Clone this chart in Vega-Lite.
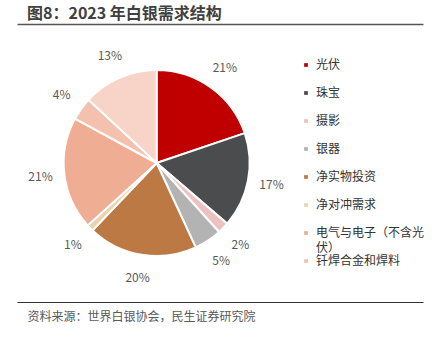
{
  "$schema": "https://vega.github.io/schema/vega-lite/v6.json",
  "width": 406,
  "height": 278,
  "autosize": {"type": "none"},
  "padding": {"left": 17, "top": 24, "right": 15, "bottom": 37},
  "background": "white",
  "config": {
    "font": "Noto Sans CJK SC",
    "view": {"stroke": null},
    "style": {"guide-label": {"lineHeight": 15.3}}
  },
  "title": {
    "text": "图8：2023 年白银需求结构",
    "anchor": "start",
    "frame": "group",
    "dx": 10,
    "offset": 2,
    "fontSize": 16,
    "fontWeight": "bold",
    "color": "#404040",
    "font": "Noto Sans CJK SC"
  },
  "data": {
    "values": [
      {"category": "光伏", "value": 19.8, "label": "21%", "order": 1},
      {"category": "珠宝", "value": 16.5, "label": "17%", "order": 2},
      {"category": "摄影", "value": 2.0, "label": "2%", "order": 3},
      {"category": "银器", "value": 4.8, "label": "5%", "order": 4},
      {"category": "净实物投资", "value": 19.0, "label": "20%", "order": 5},
      {"category": "净对冲需求", "value": 1.2, "label": "1%", "order": 6},
      {"category": "电气与电子（不含光伏）", "value": 19.6, "label": "21%", "order": 7},
      {"category": "钎焊合金和焊料", "value": 4.0, "label": "4%", "order": 8},
      {"category": "其他", "value": 13.1, "label": "13%", "order": 9}
    ]
  },
  "encoding": {
    "theta": {"field": "value", "type": "quantitative", "stack": true},
    "order": {"field": "order", "type": "quantitative"},
    "x": {
      "datum": 0.344,
      "type": "quantitative",
      "scale": {"domain": [0, 1], "nice": false, "zero": false}
    }
  },
  "layer": [
    {
      "mark": {"type": "arc", "outerRadius": 93, "stroke": "white", "strokeWidth": 2},
      "encoding": {
        "x": {
          "datum": 0.344,
          "type": "quantitative",
          "scale": {"domain": [0, 1], "nice": false, "zero": false},
          "axis": {"orient": "top", "title": null, "labels": false, "ticks": false, "grid": false, "domainColor": "#555555", "domainWidth": 1.6}
        },
        "color": {
          "field": "category",
          "type": "nominal",
          "sort": null,
          "scale": {
            "domain": ["光伏", "珠宝", "摄影", "银器", "净实物投资", "净对冲需求", "电气与电子（不含光伏）", "钎焊合金和焊料", "其他"],
            "range": ["#C00000", "#4B4C4E", "#EEC1C1", "#B3B3B3", "#BD7944", "#E8D3AE", "#EFAE94", "#F4C1AF", "#F7D3C8"]
          },
          "legend": {
            "values": ["光伏", "珠宝", "摄影", "银器", "净实物投资", "净对冲需求", "电气与电子（不含光伏）", "钎焊合金和焊料"],
            "title": null,
            "orient": "none",
            "legendX": 283,
            "legendY": 35,
            "padding": 0,
            "symbolType": "square",
            "symbolSize": 14,
            "symbolStrokeWidth": 0,
            "labelFontSize": 12,
            "labelColor": "#333333",
            "labelFont": "Noto Sans CJK SC",
            "labelOffset": 4,
            "labelLimit": 200,
            "gridAlign": "all",
            "rowPadding": 0,
            "labelExpr": "datum.label == '电气与电子（不含光伏）' ? ['电气与电子（不含光', '伏）'] : datum.label"
          }
        }
      }
    },
    {
      "mark": {"type": "text", "radius": 117, "fontSize": 12, "color": "#595959", "font": "Noto Sans CJK SC"},
      "encoding": {
        "x": {
          "datum": 0.344,
          "type": "quantitative",
          "scale": {"domain": [0, 1], "nice": false, "zero": false},
          "axis": {"orient": "bottom", "title": "资料来源：世界白银协会，民生证券研究院", "labels": false, "ticks": false, "grid": false, "domainColor": "#333333", "domainWidth": 1.2, "titleX": 10, "titleY": 14, "titleAlign": "left", "titleAnchor": "start", "titleBaseline": "middle", "titleFontSize": 12, "titleFontWeight": "normal", "titleColor": "#595959", "titleFont": "Noto Sans CJK SC"}
        },
        "text": {"field": "label", "type": "nominal"}
      }
    }
  ],
  "resolve": {"axis": {"x": "independent"}}
}
